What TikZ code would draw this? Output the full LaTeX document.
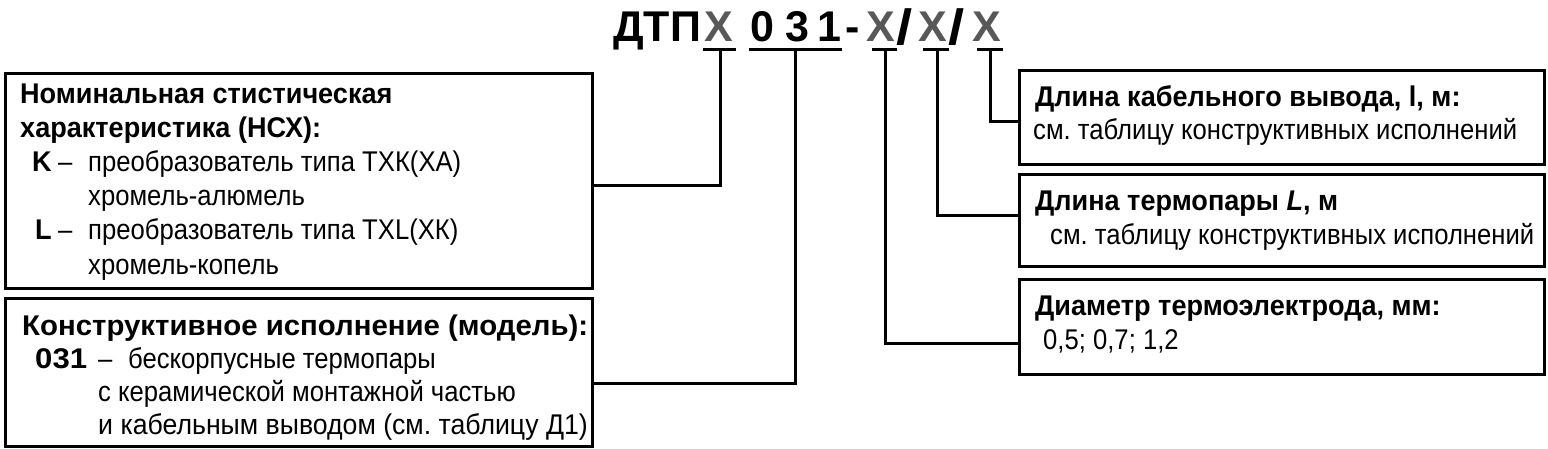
\documentclass[tikz,border=0pt]{standalone}
\usepackage{fontspec}
\setmainfont[FakeStretch=0.9,
  BoldFeatures={FakeStretch=0.95},
  BoldItalicFeatures={FakeStretch=0.95}]{Liberation Sans}
\newfontfamily\ttlfont{Liberation Sans}
\definecolor{xgray}{RGB}{88,88,88}
\frenchspacing
\begin{document}
\begin{tikzpicture}[x=1pt,y=-1pt,
  box/.style={draw=black, line width=3pt, inner sep=0pt, anchor=north west},
  conn/.style={draw=black, line width=3pt},
  ttl/.style={anchor=base west, inner sep=0pt, font=\ttlfont\fontsize{43}{50}\selectfont\bfseries},
  ttlx/.style={ttl, text=xgray},
  txt/.style={anchor=base west, inner sep=0pt, font=\fontsize{28.5}{32}\selectfont},
  btxt/.style={txt, font=\fontsize{28.5}{32}\selectfont\bfseries}]
\useasboundingbox (0,0) rectangle (1548,449);
% title
\node[ttl]  (t0) at (613,42) {ДТП};
\node[ttlx] (x1) at (704,42) {X};
\node[ttl]  (d0) at (750,42) {0};
\node[ttl]  (d3) at (785,42) {3};
\node[ttl]  (d1) at (817,42) {1};
\node[ttl]  (hy) at (845,42) {-};
\node[ttlx] (x2) at (866,42) {X};
\node[ttl]  (s1) at (896,45) {\scalebox{1.35}[1.15]{/}};
\node[ttlx] (x3) at (918,42) {X};
\node[ttl]  (s2) at (948,45) {\scalebox{1.35}[1.15]{/}};
\node[ttlx] (x4) at (972,42) {X};
% boxes
\node[box, minimum width=587pt, minimum height=215pt] (b1) at (3.5,72) {};
\node[box, minimum width=587pt, minimum height=148pt] (b2) at (3.5,297) {};
\node[box, minimum width=525pt, minimum height=94pt] (bA) at (1018,69) {};
\node[box, minimum width=525pt, minimum height=92pt] (bB) at (1018,173) {};
\node[box, minimum width=525pt, minimum height=95pt] (bC) at (1018,278) {};
% underline coordinates
\coordinate (u1) at (720,50);
\coordinate (u2) at (795,50);
\coordinate (u3) at (885,50);
\coordinate (u4) at (937,50);
\coordinate (u5) at (990,50);
\coordinate (k1) at (720,186);
\coordinate (k2) at (795,383);
\coordinate (k3) at (885,343);
\coordinate (k4) at (937,216);
\coordinate (k5) at (990,122);
% underlines
\draw[conn] (703,50) -- (736,50);
\draw[conn] (749,50) -- (842,50);
\draw[conn] (872,50) -- (897,50);
\draw[conn] (923,50) -- (949,50);
\draw[conn] (977,50) -- (1003,50);
% connectors
\draw[conn] (u1) -- (k1) -- (k1 -| b1.east);
\draw[conn] (u2) -- (k2) -- (k2 -| b2.east);
\draw[conn] (u3) -- (k3) -- (k3 -| bC.west);
\draw[conn] (u4) -- (k4) -- (k4 -| bB.west);
\draw[conn] (u5) -- (k5) -- (k5 -| bA.west);
% box 1 text
\node[btxt] (l11) at (20,104) {Номинальная стистическая};
\node[btxt] (l12) at (20,138) {характеристика (НСХ):};
\node[btxt] (l13a) at (32,172) {K};
\node[txt]  (l13b) at (58,172) {–};
\node[txt]  (l13c) at (88,172) {преобразователь типа ТХК(ХА)};
\node[txt]  (l14) at (88,206) {хромель-алюмель};
\node[btxt] (l15a) at (35,240) {L};
\node[txt]  (l15b) at (58,240) {–};
\node[txt]  (l15c) at (88,240) {преобразователь типа ТХL(ХК)};
\node[txt]  (l16) at (88,274) {хромель-копель};
% box 2 text
\node[btxt] (l21) at (22,335) {\scalebox{1.085}[1]{Конструктивное исполнение (модель):}};
\node[btxt] (l22a) at (35,368) {\scalebox{1.15}[1]{031}};
\node[txt]  (l22b) at (98,368) {–};
\node[txt]  (l22c) at (128,368) {бескорпусные термопары};
\node[txt]  (l23) at (98,401) {с керамической монтажной частью};
\node[txt]  (l24) at (98,434) {\scalebox{1.04}[1]{и кабельным выводом (см. таблицу Д1)}};
% right boxes
\node[btxt] (lA1) at (1035,107) {Длина кабельного вывода, l, м:};
\node[txt]  (lA2) at (1033,140) {см. таблицу конструктивных исполнений};
\node[btxt] (lB1) at (1035,211) {Длина термопары \textit{L}, м};
\node[txt]  (lB2) at (1050,244) {см. таблицу конструктивных исполнений};
\node[btxt] (lC1) at (1035,316) {Диаметр термоэлектрода, мм:};
\node[txt]  (lC2) at (1043,349) {0,5; 0,7; 1,2};
\end{tikzpicture}
\end{document}
